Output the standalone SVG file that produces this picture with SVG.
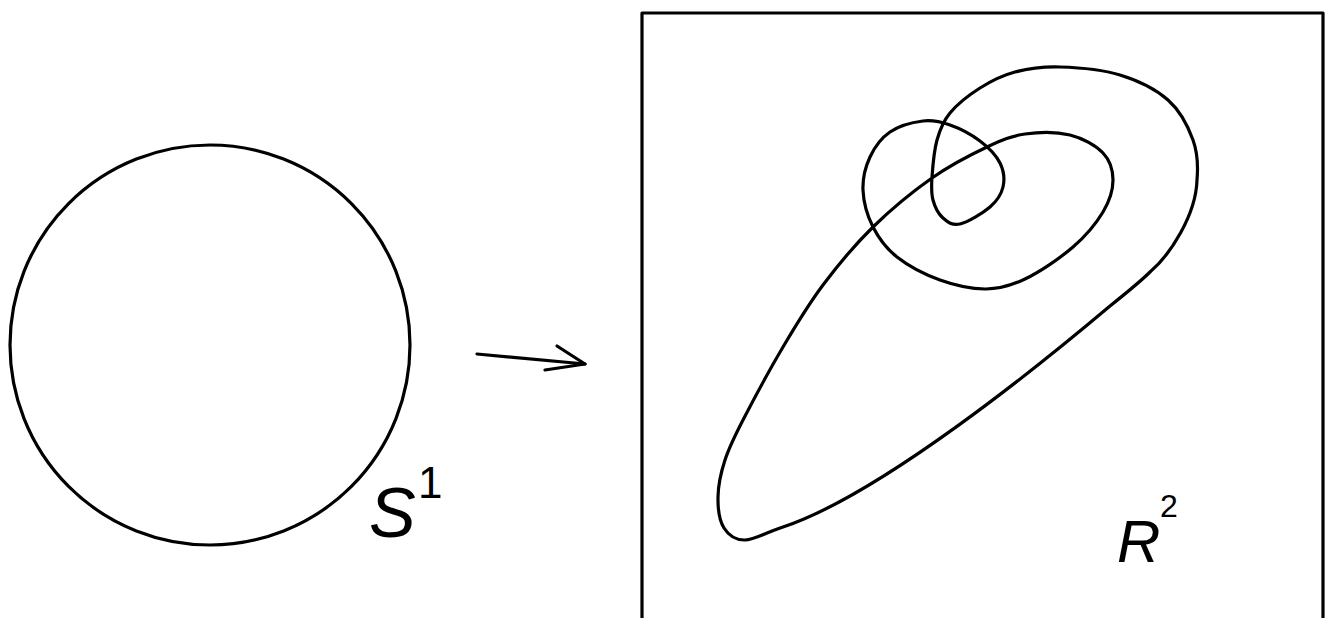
<svg xmlns="http://www.w3.org/2000/svg" width="1329" height="618" viewBox="0 0 1329 618">
<style>
.ln{fill:none;stroke:#000;stroke-width:3.2;stroke-linecap:round;stroke-linejoin:round}
.lbl{font-family:"Liberation Sans",Arial,sans-serif;font-style:italic;fill:#000}
.sup{font-family:"Liberation Sans",Arial,sans-serif;font-style:normal;fill:#000}
</style>
<rect width="1329" height="618" fill="#fff"/>
<g id="circle">
<circle class="ln" cx="210" cy="345" r="200"/>
</g>
<g id="label-S1">
<text class="lbl" x="369" y="537" font-size="70">S</text>
<text class="sup" x="418" y="498" font-size="44">1</text>
</g>
<g id="connectors">
<path class="ln" stroke-width="3.6" d="M477 354 L585 364"/>
<path class="ln" stroke-width="3.6" d="M557 346 L585 364 L545 370"/>
</g>
<g id="plane">
<path class="ln" stroke-width="3.5" d="M642 620 L642 13 L1323 13 L1323 620"/>
<path class="ln" d="M745 540 C735.2 540.2 728.5 535.2 724 528 S717.8 508.3 718 497 S720.8 472.8 725 460 S733.3 438.8 743 420 S769.7 369.5 783 347 S808 305 823 285 S854.8 244.8 873 227 S913 191.3 932 178 S971.5 154.3 987 147 S1011.2 136 1025 134 S1057 131.8 1070 135 S1095.8 145.5 1103 153 S1113 170.2 1113 180 S1109.7 200.8 1103 212 S1086 235.8 1073 247 S1039.7 272 1025 279 S999.2 289.2 985 289 S954.7 285.3 940 280 S908.2 265.8 897 257 S878.7 238.2 873 227 S863.5 201.7 863 190 S865.5 166.7 870 157 S881.2 138 890 132 S913 122.2 923 121 S940.5 121.7 950 125 S971.7 134.7 980 141 S996.2 155.3 1000 163 S1004.7 179.7 1003 187 S997.2 200.8 990 207 S967.8 222.2 960 224 S947.5 222 943 218 S934.8 206.8 933 200 S931.3 187 932 177 S934 150.7 937 140 S942.8 121.7 950 113 S969.2 94.8 980 88 S1001.7 75.5 1015 72 S1042.5 66.5 1060 67 S1102 69.5 1120 75 S1155.8 89.2 1168 100 S1188.2 126.7 1193 140 S1198.3 165 1197 180 C1196 215 1170 255 1150 272 C1140 282 1125 294 1110 306 C1040 365 880 495 783 527 C763 533.6 754.8 539.8 745 540 Z"/>
</g>
<g id="label-R2">
<text class="lbl" x="1117" y="562" font-size="60">R</text>
<text class="sup" x="1160" y="517" font-size="32">2</text>
</g>
</svg>
